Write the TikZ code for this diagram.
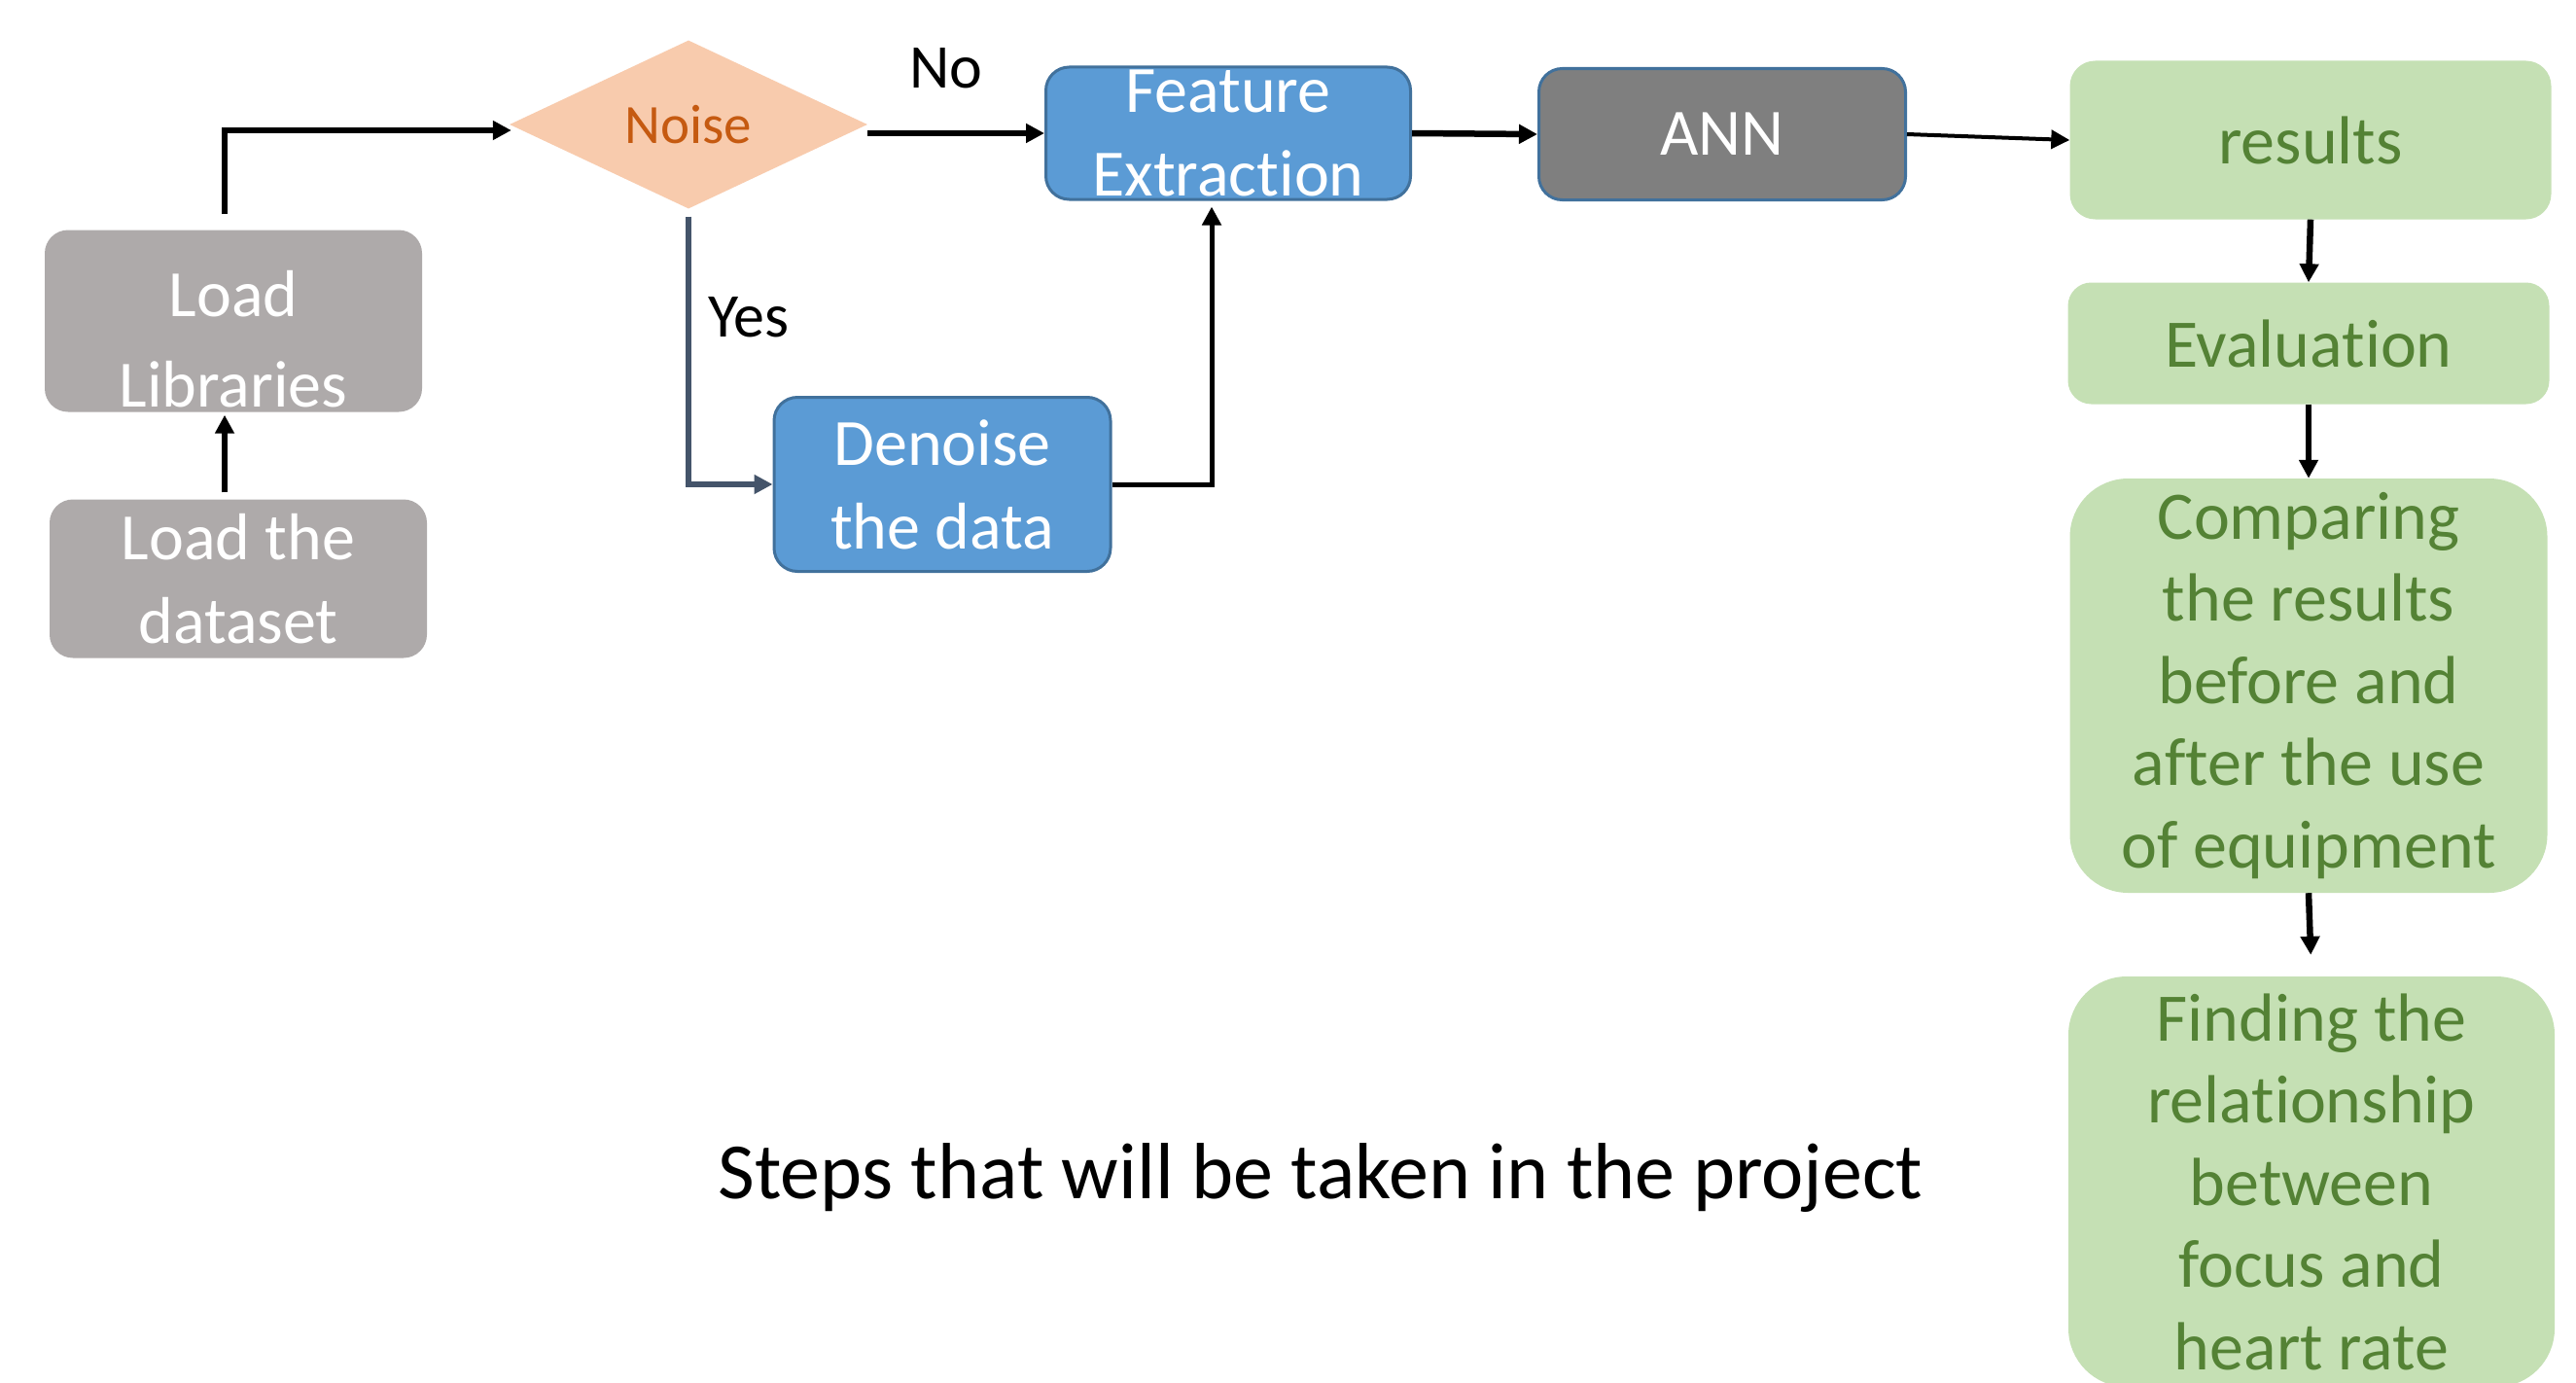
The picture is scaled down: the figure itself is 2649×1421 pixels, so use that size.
\documentclass[tikz,border=0pt]{standalone}
\usepackage{fontspec}
\setmainfont{Carlito}[Ligatures={NoCommon,NoContextual,NoRare},Contextuals=NoAlternate]
\usetikzlibrary{arrows.meta,shapes.geometric,calc}
\definecolor{graybox}{HTML}{AEAAAA}
\definecolor{bluebox}{HTML}{5B9BD5}
\definecolor{blueedge}{HTML}{41719C}
\definecolor{annbox}{HTML}{7F7F7F}
\definecolor{noisefill}{HTML}{F8CBAD}
\definecolor{noisetext}{HTML}{C55A11}
\definecolor{greenbox}{HTML}{C5E0B4}
\definecolor{greentext}{HTML}{548235}
\definecolor{yesline}{HTML}{44546A}
\newcommand{\nolig}{\kern0pt}
\tikzset{
  box/.style={rectangle, rounded corners=24pt, inner sep=0pt, align=center,
    font=\fontsize{68}{86}\selectfont, text=white},
  graystep/.style={box, fill=graybox},
  bluestep/.style={box, fill=bluebox, draw=blueedge, line width=3pt},
  annstep/.style={box, fill=annbox, draw=blueedge, line width=3pt},
  greenstep/.style={box, fill=greenbox, text=greentext, font=\fontsize{70}{84.5}\selectfont},
  arr/.style={draw=black, line width=6.5pt, -{Triangle[length=19pt,width=19pt]}},
  lbl/.style={font=\fontsize{64}{76}\selectfont, text=black, inner sep=0pt}
}
\begin{document}
\begin{tikzpicture}[x=1pt,y=-1pt]
\useasboundingbox[fill=white] (0,0) rectangle (2649,1421);
\clip (0,0) rectangle (2649,1421);

% nodes
\node[graystep, minimum width=388pt, minimum height=187pt] (lib) at (240,330) {};
\node[font=\fontsize{68}{93}\selectfont, text=white, align=center, inner sep=0pt] (libtext) at (240,349) {Load\\Libraries};
\node[graystep, minimum width=388pt, minimum height=163pt] (data) at (245,595) {Load the\\dataset};
\node[diamond, fill=noisefill, minimum width=368pt, minimum height=173pt, inner sep=0pt,
      text=noisetext, font=\fontsize{57}{68}\selectfont] (noise) at (708,128) {Noise};
\node[bluestep, minimum width=375pt, minimum height=136pt] (fe) at (1263,137) {Feature\\Extract\nolig ion};
\node[bluestep, minimum width=346pt, minimum height=179pt] (den) at (969,498) {Denoise\\the data};
\node[annstep, minimum width=377pt, minimum height=135pt] (ann) at (1771,138) {ANN};
\node[greenstep, minimum width=495pt, minimum height=163pt, rounded corners=26pt] (res) at (2376,144) {results};
\node[greenstep, minimum width=495pt, minimum height=125pt, rounded corners=24pt] (eval) at (2374,353) {Evaluat\nolig ion};
\node[greenstep, minimum width=491pt, minimum height=426pt, rounded corners=60pt] (comp) at (2374,705)
  {Comparing\\the results\\before and\\after the use\\of equipment};
\node[greenstep, minimum width=500pt, minimum height=422pt, rounded corners=60pt] (find) at (2377,1215)
  {Finding the\\relat\nolig ionship\\between\\focus and\\heart rate};

\node[lbl] (no) at (973,70) {No};
\node[lbl] (yes) at (770,326) {Yes};
\node[font=\fontsize{82}{98}\selectfont, inner sep=0pt] (caption) at (1358,1211) {Steps that will be taken in the project};

% helper coordinates
\coordinate (c1) at (231,134);
\coordinate (c2) at (1246,0);

% connectors
\draw[arr, shorten <=7pt, shorten >=3pt] (data.north -| c1) -- (lib.south -| c1);
\draw[arr, shorten <=16pt, shorten >=-2pt] (lib.north -| c1) |- (c1 -| noise.west);
\draw[arr] (noise.east |- fe.west) -- (fe.west);
\draw[arr, draw=yesline, line width=5.5pt, shorten <=8pt] (noise.south) |- (den.west);
\draw[arr, line width=5pt, shorten >=6pt] (den.east) -| (c2 |- fe.south);
\draw[arr] (fe.east) -- (ann.west);
\draw[arr, line width=4pt] (ann.east) -- (res.west);
\draw[arr] (res.south) -- (eval.north);
\draw[arr] (eval.south) -- (comp.north);
\draw[arr, shorten >=22pt] (comp.south) -- (find.north);
\end{tikzpicture}
\end{document}
